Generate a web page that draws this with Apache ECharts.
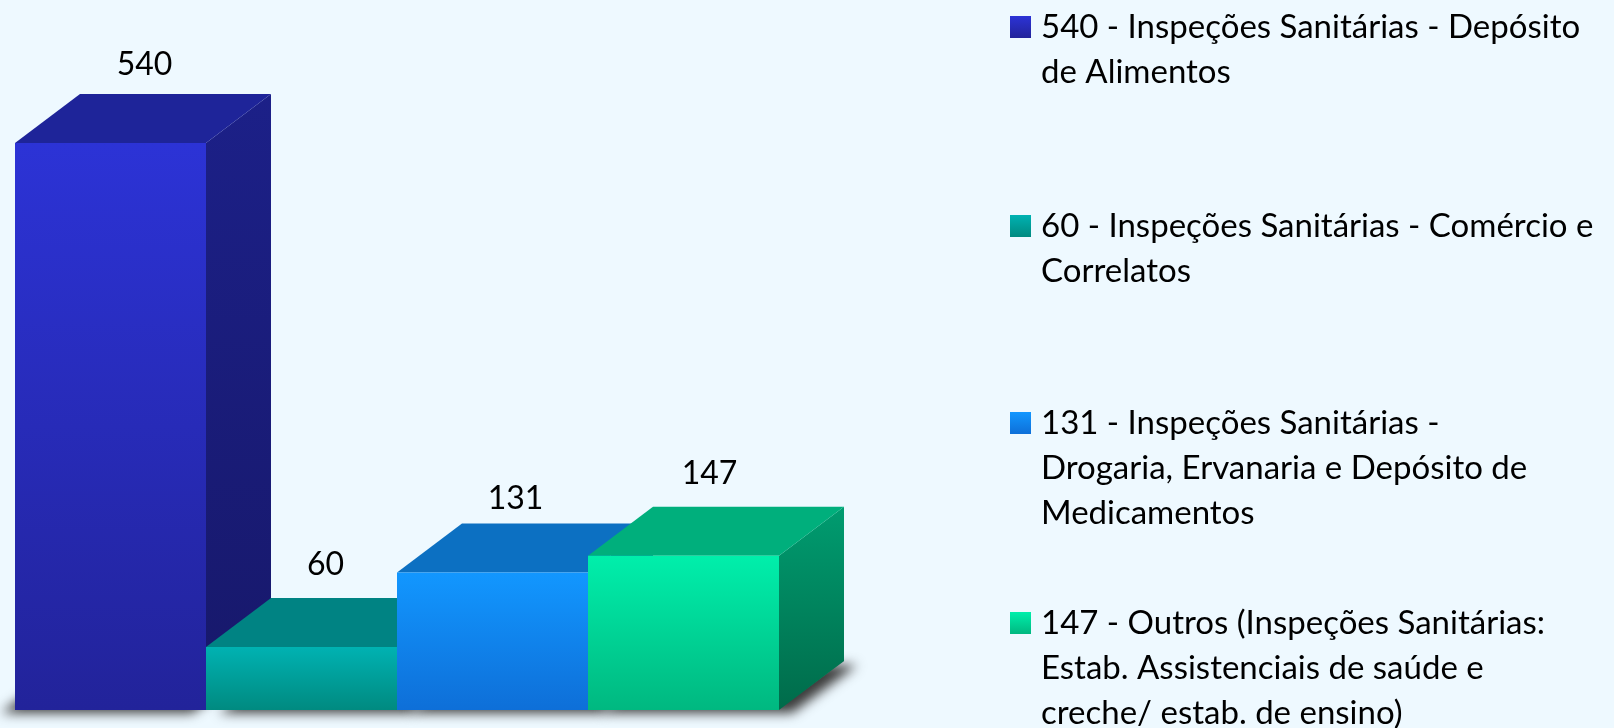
<!DOCTYPE html>
<html>
<head>
<meta charset="utf-8">
<style>html,body{margin:0;padding:0;background:#eef9ff;overflow:hidden}#c{width:1614px;height:728px}</style>
<script src="https://cdn.jsdelivr.net/npm/echarts@6/dist/echarts.min.js"></script>
</head>
<body>
<div id="c"></div>
<script>
const categories = ['Depósito de Alimentos', 'Comércio e Correlatos', 'Drogaria, Ervanaria e Depósito de Medicamentos', 'Outros'];
const values = [540, 60, 131, 147];
const legendNames = [
  '540 - Inspeções Sanitárias - Depósito\nde Alimentos',
  '60 - Inspeções Sanitárias - Comércio e\nCorrelatos',
  '131 - Inspeções Sanitárias -\nDrogaria, Ervanaria e Depósito de\nMedicamentos',
  '147 - Outros (Inspeções Sanitárias:\nEstab. Assistenciais de saúde e\ncreche/ estab. de ensino)'
];

// styling
const palette = [
  { front: ['#2c33d6', '#22239a'], top: '#1e2499', side: ['#1c2088', '#17186a'] },
  { front: ['#00b2b2', '#008a80'], top: '#008383', side: ['#006a6a', '#005050'] },
  { front: ['#1297ff', '#0e6fd8'], top: '#0c70c2', side: ['#0a5ea6', '#084c88'] },
  { front: ['#00efab', '#00b880'], top: '#00af7c', side: ['#009c70', '#006b4a'] }
];
const depthX = 65, depthY = 49;
const labelNudge = [[34, 29], [24, 33], [23, 25], [26, 33]];
const legendCentres = [27, 226, 423, 623];
const legendLineHeight = 45;
const fontFamily = 'Lato';

const vGrad = c => new echarts.graphic.LinearGradient(0, 0, 0, 1, [{ offset: 0, color: c[0] }, { offset: 1, color: c[1] }]);
const poly = (points, fill, extra) => ({ type: 'polygon', shape: { points }, style: Object.assign({ fill }, extra || {}) });

function renderBar(params, api) {
  const i = params.seriesIndex - 1;
  const v = api.value(1);
  const top = api.coord([api.value(0), v]);
  const base = api.coord([api.value(0), 0]);
  const w = api.size([1, 0])[0];
  const l = top[0] - w / 2, r = top[0] + w / 2, t = top[1], b = base[1];
  const p = palette[i];
  return {
    type: 'group',
    children: [
      poly([[r, t], [r + depthX, t - depthY], [r + depthX, b - depthY], [r, b]], vGrad(p.side)),
      poly([[l, t], [l + depthX, t - depthY], [r + depthX, t - depthY], [r, t]], p.top),
      { type: 'rect', shape: { x: l, y: t, width: w, height: b - t }, style: { fill: vGrad(p.front) } },
      { type: 'text', style: { text: String(v), x: top[0] + labelNudge[i][0], y: t - depthY - labelNudge[i][1], fill: '#000', font: '32px ' + fontFamily, align: 'center', verticalAlign: 'middle' } }
    ]
  };
}

// floor sits entirely behind the bars, so only its soft shadow shows
function renderFloor(params, api) {
  const c = api.coord([api.value(0), 0]);
  const w = api.size([1, 0])[0];
  const l = c[0] - w / 2, r = c[0] + w / 2, b = c[1];
  const first = params.dataIndex === 0;
  return poly(
    [[l, b - 1], [r, b - 1], [r + depthX, b - depthY], [l + depthX, b - depthY]],
    '#777777',
    { shadowBlur: 12, shadowColor: 'rgba(60,60,60,1)', shadowOffsetX: first ? -14 : 13, shadowOffsetY: 4 }
  );
}

const chart = echarts.init(document.getElementById('c'));
chart.setOption({
  animation: false,
  backgroundColor: '#eef9ff',
  textStyle: { fontFamily },
  grid: { left: 15, right: 835, top: 143, bottom: 18 },
  xAxis: { type: 'category', data: categories, show: false },
  yAxis: { type: 'value', min: 0, max: 540, show: false },
  legend: legendNames.map((name, i) => {
    const n = name.split('\n').length;
    return {
      data: [name],
      left: 1005,
      top: legendCentres[i] - legendLineHeight * (2 * n - 1) / 2 - 5,
      icon: 'rect',
      itemWidth: 21,
      itemHeight: 22,
      selectedMode: false,
      // blank lines above keep the icon level with the first text line
      formatter: s => '\n'.repeat(n - 1) + s,
      textStyle: { fontFamily, fontSize: 33, lineHeight: legendLineHeight, color: '#000', padding: [0, 0, 0, 5] }
    };
  }),
  series: [
    { type: 'custom', name: 'floor', silent: true, renderItem: renderFloor, encode: { x: 0, y: 1 },
      data: categories.map((c, i) => [c, values[i]]) }
  ].concat(legendNames.map((name, i) => ({
    type: 'custom',
    name,
    renderItem: renderBar,
    encode: { x: 0, y: 1 },
    itemStyle: { color: vGrad(palette[i].front) },
    data: [[categories[i], values[i]]]
  })))
});
</script>
</body>
</html>
